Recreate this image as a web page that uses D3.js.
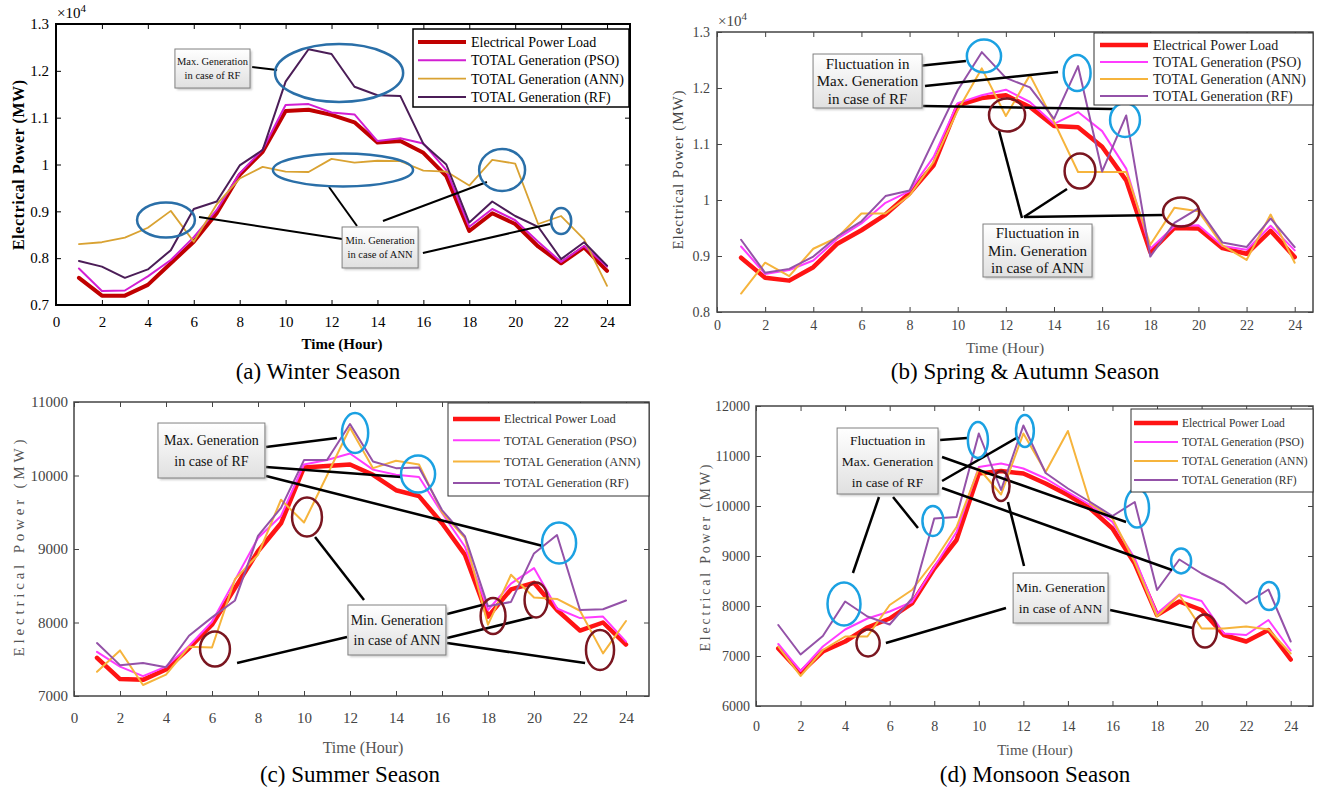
<!DOCTYPE html>
<html lang="en">
<head>
  <meta charset="UTF-8">
  <title>Seasonal Load vs Generation</title>
  <script src="https://d3js.org/d3.v7.min.js"></script>
  <style>
    html, body { margin: 0; padding: 0; background: #fff; }
    svg text { font-family: "Liberation Serif", "Times New Roman", serif; }
  </style>
</head>
<body>
<svg id="chart" width="1323" height="788"></svg>
<script>
  // ---- data (MW) ----
  const hours = [1,2,3,4,5,6,7,8,9,10,11,12,13,14,15,16,17,18,19,20,21,22,23,24];
  const xTicks = [0,2,4,6,8,10,12,14,16,18,20,22,24];
  const seriesNames = ['Electrical Power Load', 'TOTAL Generation (PSO)', 'TOTAL Generation (ANN)', 'TOTAL Generation (RF)'];

  const winterLoad = [7580,7200,7200,7430,7890,8350,8960,9780,10270,11140,11170,11060,10900,10470,10500,10250,9750,8580,8960,8730,8250,7890,8230,7730];
  const winterPSO  = [7780,7300,7310,7610,7960,8450,9030,9810,10320,11270,11290,11110,11070,10500,10560,10450,9880,8670,9050,8810,8350,7920,8260,7820];
  const winterANN  = [8300,8340,8440,8650,9010,8350,9150,9700,9950,9850,9840,10120,10040,10080,10070,9870,9850,9550,10100,10020,8730,8900,8400,7410];
  const winterRF   = [7940,7820,7580,7760,8170,9050,9210,9980,10310,11770,12460,12360,11660,11480,11460,10440,10000,8760,9210,8900,8670,7980,8340,7840];

  const springLoad = [8970,8610,8560,8800,9220,9460,9740,10120,10620,11690,11820,11870,11660,11320,11300,10950,10350,9070,9500,9490,9140,9040,9450,8980];
  const springPSO  = [9170,8680,8750,8920,9310,9580,9950,10160,10770,11730,11870,11970,11750,11360,11570,11230,10560,9130,9530,9550,9180,9110,9540,9100];
  const springANN  = [8330,8880,8640,9130,9330,9760,9760,10080,10680,11600,12350,11500,12230,11400,10500,10500,10500,9200,9860,9800,9190,8930,9740,8880];
  const springRF   = [9290,8700,8770,8990,9350,9620,10070,10170,11070,11960,12640,12180,12010,11450,12390,10510,11510,8990,9590,9850,9240,9160,9670,9160];

  const summerLoad = [7520,7230,7220,7360,7650,7970,8470,8970,9350,10110,10130,10150,10010,9800,9720,9350,8920,8080,8450,8540,8170,7890,8000,7700];
  const summerPSO  = [7600,7400,7270,7400,7680,8010,8580,9150,9450,10150,10210,10300,10080,10010,9980,9490,9030,8170,8530,8740,8190,8060,8080,7740];
  const summerANN  = [7330,7620,7150,7290,7670,7660,8590,8920,9670,9360,10000,10650,10100,10200,10150,9500,9150,7970,8650,8340,8320,8160,7580,8020];
  const summerRF   = [7720,7420,7450,7390,7820,8070,8300,9180,9560,10210,10210,10700,10190,10100,10110,9530,9170,8220,8280,8940,9190,8170,8180,8300];

  const monsoonLoad = [7150,6670,7090,7290,7570,7750,8050,8750,9320,10650,10700,10650,10450,10220,9950,9550,8850,7820,8090,7920,7420,7290,7520,6930];
  const monsoonPSO  = [7240,6700,7190,7530,7750,7890,8080,8780,9480,10780,10850,10750,10550,10280,10020,9680,8950,7850,8230,8100,7450,7420,7720,7110];
  const monsoonANN  = [7190,6600,7120,7390,7390,8020,8320,8900,9580,10750,10230,11450,10680,11500,10050,9750,8880,7790,8220,7550,7550,7590,7530,7050];
  const monsoonRF   = [7620,7030,7400,8090,7790,7630,8150,9750,9780,11450,10320,11610,10660,10350,10080,9800,10080,8320,8930,8650,8430,8050,8330,7290];

  const winterYTicks  = [7000,8000,9000,10000,11000,12000,13000];
  const winterYLabels = ['0.7','0.8','0.9','1','1.1','1.2','1.3'];
  const springYTicks  = [8000,9000,10000,11000,12000,13000];
  const springYLabels = ['0.8','0.9','1','1.1','1.2','1.3'];
  const summerYTicks  = [7000,8000,9000,10000,11000];
  const summerYLabels = ['7000','8000','9000','10000','11000'];
  const monsoonYTicks  = [6000,7000,8000,9000,10000,11000,12000];
  const monsoonYLabels = ['6000','7000','8000','9000','10000','11000','12000'];

  // callouts, in (hour, MW) units
  const winterNotes = {
    ellipses: [[12.33,11954,2.79,619,'b'],[12.5,9883,3.05,352,'b'],[4.79,8815,1.26,374,'b'],[19.43,9883,1.0,448,'b'],[22.0,8794,0.44,278,'b']],
    boxes: [[5.18,8.45,12466,11633,['Max. Generation','in case of RF']],[12.46,15.77,8666,7791,['Min. Generation','in case of ANN']]],
    leaders: [[8.54,12082,9.63,12018],[13.11,8687,11.89,9520],[12.46,8410,6.23,8880],[14.24,8794,18.77,9627],[15.98,8111,21.52,8730]]
  };
  const springNotes = {
    ellipses: [[11.09,12571,0.71,295,'b'],[14.96,12268,0.56,321,'b'],[16.95,11429,0.62,304,'b'],
               [12.05,11518,0.75,295,'r'],[15.08,10518,0.64,313,'r'],[19.28,9786,0.75,259,'r']],
    boxes: [[3.99,8.52,12607,11643,['Fluctuation in','Max. Generation','in case of RF']],
            [11.05,15.58,9571,8625,['Fluctuation in','Min. Generation','in case of ANN']]],
    leaders: [[8.35,12393,10.34,12482],[8.64,12036,14.17,12286],[8.56,11679,16.45,11625],
              [12.67,9679,11.72,11232],[12.75,9696,14.54,10196],[12.75,9696,18.53,9732]]
  };
  const summerNotes = {
    ellipses: [[12.22,10578,0.57,272,'b'],[14.96,10020,0.74,252,'b'],[21.09,9082,0.74,279,'b'],
               [10.13,9435,0.65,265,'r'],[6.13,7640,0.65,238,'r'],[18.22,8088,0.54,245,'r'],[20.09,8306,0.5,238,'r'],[22.87,7626,0.61,272,'r']],
    boxes: [[3.65,8.3,10714,9966,['Max. Generation','in case of RF']],[11.91,16.17,8238,7558,['Min. Generation','in case of ANN']]],
    leaders: [[8.35,10388,11.43,10510],[8.35,10116,14.22,9980],[8.35,9993,20.39,9041],[10.48,9163,12.61,8306],
              [11.87,7803,7.09,7449],[16.22,8116,17.74,8238],[16.22,7789,19.96,8075],[16.22,7721,22.22,7449]]
  };
  const monsoonNotes = {
    ellipses: [[3.95,8040,0.74,430,'b'],[7.94,9700,0.47,300,'b'],[9.96,11320,0.45,360,'b'],[12.07,11500,0.4,320,'b'],
               [17.1,9960,0.54,390,'b'],[19.08,8900,0.45,250,'b'],[23.03,8200,0.45,280,'b'],
               [5.03,7260,0.52,270,'r'],[11.0,10400,0.38,300,'r'],[20.15,7500,0.54,330,'r']],
    boxes: [[3.64,8.17,11560,10240,['Fluctuation in','Max. Generation','in case of RF']],[11.54,15.8,8660,7660,['Min. Generation','in case of ANN']]],
    leaders: [[8.26,11320,9.47,11360],[8.35,10500,11.76,11380],[8.35,10980,16.61,9680],[8.35,10360,18.67,8720],
              [5.52,10180,4.35,8660],[6.15,10180,7.27,9560],[12.03,8800,11.31,10080],[11.22,7960,5.83,7260],[15.89,7920,19.61,7560]]
  };

  const svg = d3.select('#chart');
  const defs = svg.append('defs');
  const grad = defs.append('linearGradient').attr('id', 'boxFill').attr('x1', 0).attr('y1', 0).attr('x2', 0).attr('y2', 1);
  grad.append('stop').attr('offset', '0%').attr('stop-color', '#ffffff');
  grad.append('stop').attr('offset', '100%').attr('stop-color', '#e0e0e0');
  defs.append('filter').attr('id', 'blur').append('feGaussianBlur').attr('stdDeviation', 1.2);

  function drawPanel(p) {
    const g = svg.append('g');
    const x = d3.scaleLinear().domain([0, p.xMax]).range([p.left, p.left + p.width]);
    const y = d3.scaleLinear().domain([p.yMin, p.yMax]).range([p.top + p.height, p.top]);
    const bottom = p.top + p.height, right = p.left + p.width;

    // MATLAB style box: inward ticks on all four sides
    const axes = [
      [d3.axisBottom(x).tickValues(xTicks).tickPadding(p.xPad), `translate(0,${bottom})`],
      [d3.axisTop(x).tickValues(xTicks).tickFormat(''), `translate(0,${p.top})`],
      [d3.axisLeft(y).tickValues(p.yTicks).tickFormat(d => p.yLabels[p.yTicks.indexOf(d)]).tickPadding(p.yPad), `translate(${p.left},0)`],
      [d3.axisRight(y).tickValues(p.yTicks).tickFormat(''), `translate(${right},0)`]
    ];
    axes.forEach(([ax, tr]) => {
      const a = g.append('g').attr('transform', tr).call(ax.tickSizeInner(-5).tickSizeOuter(0));
      a.select('.domain').remove();
      a.selectAll('line').attr('stroke', p.frame).attr('stroke-width', 1);
      a.selectAll('text').attr('font-family', '"Liberation Serif", serif')
        .attr('font-size', p.tickFont).attr('fill', p.tickColor);
    });

    // series
    const line = d3.line().x((d, i) => x(hours[i])).y(d => y(d));
    p.series.forEach((s, k) => {
      g.append('path').attr('d', line(s)).attr('fill', 'none')
        .attr('stroke', p.colors[k]).attr('stroke-width', p.widths[k])
        .attr('stroke-linejoin', 'round').attr('stroke-linecap', 'round');
    });

    g.append('rect').attr('x', p.left).attr('y', p.top).attr('width', p.width).attr('height', p.height)
      .attr('fill', 'none').attr('stroke', p.frame).attr('stroke-width', p.frameW);

    // callouts
    const n = p.notes;
    n.leaders.forEach(l => {
      g.append('line').attr('x1', x(l[0])).attr('y1', y(l[1])).attr('x2', x(l[2])).attr('y2', y(l[3]))
        .attr('stroke', '#000').attr('stroke-width', p.leaderW);
    });
    n.ellipses.forEach(e => {
      g.append('ellipse').attr('cx', x(e[0])).attr('cy', y(e[1]))
        .attr('rx', x(e[2]) - x(0)).attr('ry', y(p.yMin) - y(p.yMin + e[3]))
        .attr('fill', 'none').attr('stroke', e[4] === 'b' ? p.blue : '#7a1620').attr('stroke-width', 2.5);
    });
    n.boxes.forEach(b => {
      const bx = x(b[0]), by = y(b[2]), bw = x(b[1]) - x(b[0]), bh = y(b[3]) - y(b[2]);
      g.append('rect').attr('x', bx + 2).attr('y', by + 2).attr('width', bw).attr('height', bh)
        .attr('fill', '#aaa').attr('opacity', 0.6).attr('filter', 'url(#blur)');
      g.append('rect').attr('x', bx).attr('y', by).attr('width', bw).attr('height', bh)
        .attr('fill', 'url(#boxFill)').attr('stroke', '#808080').attr('stroke-width', 1);
      const lines = b[4], mid = by + bh / 2;
      lines.forEach((t, i) => {
        g.append('text').attr('x', bx + bw / 2).attr('y', mid + (i - (lines.length - 1) / 2) * p.boxStep)
          .attr('dy', '0.35em').attr('text-anchor', 'middle').attr('font-size', p.boxFont).attr('fill', '#111').text(t);
      });
    });

    // legend
    const L = p.legend;
    const lx = right + L.dx - L.w, ly = p.top + L.dy;
    g.append('rect').attr('x', lx).attr('y', ly).attr('width', L.w).attr('height', L.h)
      .attr('fill', '#fff').attr('stroke', L.border).attr('stroke-width', L.bw);
    seriesNames.forEach((name, k) => {
      const ry = ly + L.row0 + k * L.step;
      g.append('line').attr('x1', lx + L.l0).attr('x2', lx + L.l1).attr('y1', ry).attr('y2', ry)
        .attr('stroke', p.colors[k]).attr('stroke-width', p.widths[k]);
      g.append('text').attr('x', lx + L.tx).attr('y', ry).attr('dy', '0.35em')
        .attr('font-size', L.font).attr('fill', L.color).text(name);
    });

    // axis titles and caption
    g.append('text').attr('transform', `translate(${p.ylab.x},${p.ylab.y}) rotate(-90)`)
      .attr('text-anchor', 'middle').attr('font-size', p.ylab.size).attr('font-weight', p.ylab.bold ? 'bold' : 'normal')
      .attr('fill', p.ylab.color).attr('textLength', p.ylab.len).text('Electrical Power (MW)');
    g.append('text').attr('x', p.xlab.x).attr('y', p.xlab.y).attr('text-anchor', 'middle')
      .attr('font-size', p.xlab.size).attr('font-weight', p.xlab.bold ? 'bold' : 'normal')
      .attr('fill', p.xlab.color).text('Time (Hour)');
    g.append('text').attr('x', p.caption.x).attr('y', p.caption.y).attr('text-anchor', 'middle')
      .attr('font-size', 23).attr('fill', '#000').text(p.caption.text);

    if (p.exponent) {
      const e = g.append('text').attr('x', p.exponent[0]).attr('y', p.exponent[1])
        .attr('font-size', 15).attr('fill', p.tickColor);
      e.append('tspan').text('\u00d710');
      e.append('tspan').attr('dy', -6).attr('font-size', 11).text('4');
    }
  }

  const darkSet = ['#c00000', '#d21fd2', '#d9a232', '#4b1d57'];
  const brightSet = ['#ff1414', '#ff3cff', '#f6b43c', '#9452a8'];

  drawPanel({
    left: 56, top: 24, width: 574, height: 281, xMax: 25, yMin: 7000, yMax: 13000,
    yTicks: winterYTicks, yLabels: winterYLabels, exponent: [57, 18],
    series: [winterLoad, winterPSO, winterANN, winterRF], colors: darkSet, widths: [4, 2, 1.8, 2],
    frame: '#000', frameW: 2, tickColor: '#000', tickFont: 15, xPad: 11, yPad: 7,
    blue: '#2a6fa8', leaderW: 2, boxFont: 10.5, boxStep: 14,
    ylab: {x: 24, y: 165, size: 16, bold: true, color: '#000', len: 170},
    xlab: {x: 342, y: 349, size: 15, bold: true, color: '#000'},
    caption: {text: '(a) Winter Season', x: 318, y: 379},
    legend: {w: 216, h: 78, dx: -1, dy: 5, row0: 13, step: 18.3, l0: 5, l1: 53, tx: 58, font: 14, border: '#000', bw: 1.5, color: '#000'},
    notes: winterNotes
  });

  drawPanel({
    left: 717, top: 32, width: 596, height: 280, xMax: 24.76, yMin: 8000, yMax: 13000,
    yTicks: springYTicks, yLabels: springYLabels, exponent: [718, 26],
    series: [springLoad, springPSO, springANN, springRF], colors: brightSet, widths: [4.5, 2, 2, 2],
    frame: '#444', frameW: 1.5, tickColor: '#444', tickFont: 14, xPad: 8, yPad: 7,
    blue: '#1ba1e2', leaderW: 2.5, boxFont: 15, boxStep: 17.5,
    ylab: {x: 683, y: 170, size: 15, bold: false, color: '#444', len: 159},
    xlab: {x: 1005, y: 353, size: 15.5, bold: false, color: '#555'},
    caption: {text: '(b) Spring & Autumn Season', x: 1025, y: 379},
    legend: {w: 219, h: 72, dx: 0, dy: 1, row0: 12, step: 17, l0: 6, l1: 54, tx: 59, font: 14, border: '#333', bw: 1, color: '#222'},
    notes: springNotes
  });

  drawPanel({
    left: 74, top: 402, width: 575, height: 294, xMax: 25, yMin: 7000, yMax: 11000,
    yTicks: summerYTicks, yLabels: summerYLabels,
    series: [summerLoad, summerPSO, summerANN, summerRF], colors: brightSet, widths: [4.5, 2, 2, 2],
    frame: '#444', frameW: 1.5, tickColor: '#444', tickFont: 15, xPad: 16, yPad: 6,
    blue: '#1ba1e2', leaderW: 2.5, boxFont: 14, boxStep: 20.5,
    ylab: {x: 24, y: 548, size: 15, bold: false, color: '#555', len: 217},
    xlab: {x: 363, y: 753, size: 16, bold: false, color: '#555'},
    caption: {text: '(c) Summer Season', x: 350, y: 782},
    legend: {w: 201, h: 93, dx: 0, dy: 1, row0: 16, step: 21.3, l0: 5, l1: 52, tx: 56, font: 12.5, border: '#333', bw: 1, color: '#333'},
    notes: summerNotes
  });

  drawPanel({
    left: 756, top: 406, width: 557, height: 300, xMax: 25, yMin: 6000, yMax: 12000,
    yTicks: monsoonYTicks, yLabels: monsoonYLabels,
    series: [monsoonLoad, monsoonPSO, monsoonANN, monsoonRF], colors: brightSet, widths: [4.5, 2, 2, 2],
    frame: '#444', frameW: 1.5, tickColor: '#444', tickFont: 14, xPad: 15, yPad: 6,
    blue: '#1ba1e2', leaderW: 2.5, boxFont: 13.5, boxStep: 21,
    ylab: {x: 710, y: 558, size: 14, bold: false, color: '#555', len: 187},
    xlab: {x: 1035, y: 755, size: 15, bold: false, color: '#555'},
    caption: {text: '(d) Monsoon Season', x: 1035, y: 782},
    legend: {w: 182, h: 83, dx: 0, dy: 3, row0: 14, step: 19, l0: 3, l1: 47, tx: 51, font: 11.5, border: '#333', bw: 1, color: '#333'},
    notes: monsoonNotes
  });
</script>
</body>
</html>
